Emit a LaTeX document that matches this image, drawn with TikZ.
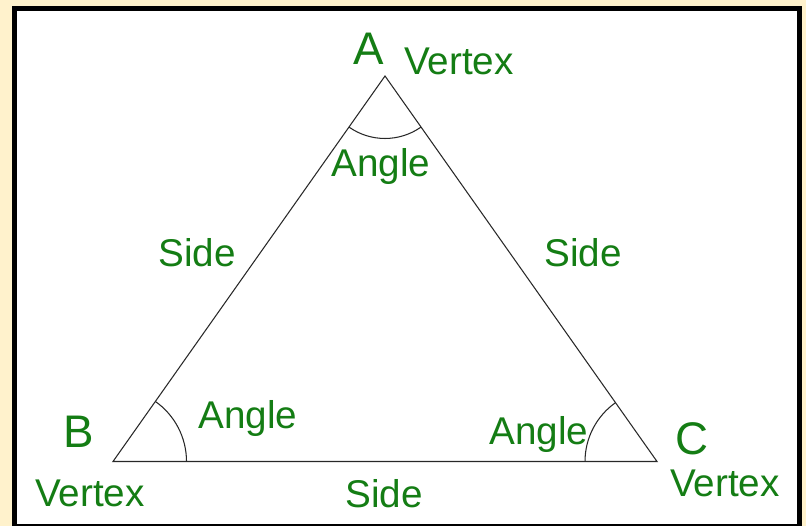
\documentclass[tikz,border=0pt]{standalone}
\usepackage{fontspec}
\setmainfont{Liberation Sans}
\definecolor{labelgreen}{RGB}{20,125,20}
\definecolor{paper}{RGB}{255,242,204}
\definecolor{edgegray}{RGB}{40,40,40}
\begin{document}
\begin{tikzpicture}[scale=1.0,
    lbl/.style={text=labelgreen, font=\fontsize{22}{26}\selectfont, anchor=base, inner sep=0pt},
    vlbl/.style={text=labelgreen, font=\fontsize{26}{30}\selectfont, anchor=base, inner sep=0pt},
    edge/.style={draw=edgegray, line width=0.6pt}]
  % page and frame
  \fill[paper] (0,0) rectangle (16.12,10.52);
  \useasboundingbox (0,0) rectangle (16.12,10.52);
  \filldraw[fill=white, line width=0.1cm] (0.29,-0.01) rectangle (15.99,10.35);
  % corners of the triangle
  \coordinate (A) at (7.70,9.00);
  \coordinate (B) at (2.26,1.29);
  \coordinate (C) at (13.14,1.29);
  % draw the three sides
  \draw[edge] (A) -- (B) -- (C) -- cycle;
  % draw the angle arcs
  \draw[edge] ([shift={(234.8:1.25)}]A) arc (234.8:305.2:1.25);
  \draw[edge] ([shift={(0:1.47)}]B) arc (0:54.8:1.47);
  \draw[edge] ([shift={(125.2:1.44)}]C) arc (125.2:180:1.44);
  % vertex letters
  \node[vlbl] (nameA) at (7.38,9.22) {A};
  \node[vlbl] (nameB) at (1.58,1.56) {B};
  \node[vlbl] (nameC) at (13.84,1.42) {C};
  % vertex words
  \node[lbl] (vertA) at (9.18,9.02) {Vertex};
  \node[lbl] (vertB) at (1.80,0.38) {Vertex};
  \node[lbl] (vertC) at (14.50,0.58) {Vertex};
  % angle words
  \node[lbl] (angA) at (7.62,6.98) {Angle};
  \node[lbl] (angB) at (4.96,1.94) {Angle};
  \node[lbl] (angC) at (10.78,1.62) {Angle};
  % side words
  \node[lbl] (sideAB) at (3.94,5.18) {Side};
  \node[lbl] (sideAC) at (11.66,5.18) {Side};
  \node[lbl] (sideBC) at (7.68,0.36) {Side};
\end{tikzpicture}
\end{document}
